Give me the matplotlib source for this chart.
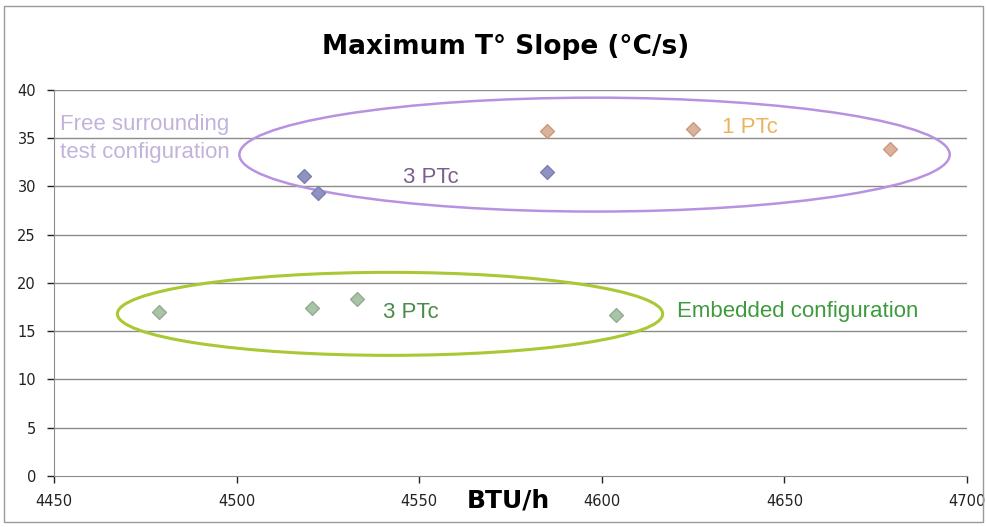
import matplotlib.pyplot as plt
from matplotlib.patches import Ellipse, Rectangle

# data (BTU/h vs max slope in degC/s)
free_3ptc_x = [4518.5, 4522.3, 4585.0]
free_3ptc_y = [31.1, 29.3, 31.5]
free_1ptc_x = [4585.0, 4625.0, 4679.0]
free_1ptc_y = [35.7, 36.0, 33.9]
emb_3ptc_x = [4478.8, 4520.7, 4533.0, 4604.0]
emb_3ptc_y = [17.0, 17.4, 18.3, 16.7]

x_ticks = [4450, 4500, 4550, 4600, 4650, 4700]
y_ticks = [0, 5, 10, 15, 20, 25, 30, 35, 40]

fig = plt.figure(figsize=(9.86, 5.27), dpi=100)
ax = fig.add_axes([0.0548, 0.0968, 0.926, 0.7325])

# grid first so markers sit on top
for y in y_ticks[1:]:
    ax.axhline(y, color="#8c8c8c", lw=1.0, zorder=1)

mk = dict(marker="D", s=50, linewidths=1.0, zorder=4)
ax.scatter(free_3ptc_x, free_3ptc_y, color="#8e93c4", edgecolors="#7c80b0", **mk)
ax.scatter(free_1ptc_x, free_1ptc_y, color="#ddb29a", edgecolors="#c89a80", **mk)
ax.scatter(emb_3ptc_x, emb_3ptc_y, color="#aac3a6", edgecolors="#93ad90", **mk)

# group ellipses
ax.add_patch(Ellipse((4598, 33.3), 194.5, 11.8, fill=False, ec="#b892e0", lw=1.8, zorder=3))
ax.add_patch(Ellipse((4542, 16.8), 149.3, 8.6, fill=False, ec="#a9c834", lw=2.2, zorder=3))

ax.set_xlim(4450, 4700)
ax.set_ylim(0, 40)
ax.set_xticks(x_ticks)
ax.set_yticks(y_ticks)
ax.tick_params(axis="both", labelsize=10.5, colors="#222222", length=5, width=1.0)
ax.tick_params(axis="x", pad=8)
ax.tick_params(axis="y", pad=8)
for t in ax.get_xticklines() + ax.get_yticklines():
    t.set_color("#8c8c8c")
for s in ["top", "right"]:
    ax.spines[s].set_visible(False)
for s in ["left", "bottom"]:
    ax.spines[s].set_color("#8c8c8c")

# annotations
lbl = dict(family="Liberation Sans", fontsize=16, ha="left", va="baseline")
ax.text(4451.6, 32.9, "Free surrounding\ntest configuration", color="#c3b3dc",
        linespacing=1.45, **lbl)
ax.text(4545.6, 30.36, "3 PTc", color="#7b5e8c", **lbl)
ax.text(4633, 35.54, "1 PTc", color="#eab45a", **lbl)
ax.text(4540, 16.37, "3 PTc", color="#4a8a4a", **lbl)
ax.text(4620.7, 16.48, "Embedded configuration", color="#3e9a3e", **lbl)

fig.text(0.513, 0.911, "Maximum T° Slope (°C/s)", fontsize=19, fontweight="bold",
         ha="center", va="center")
fig.text(0.516, 0.05, "BTU/h", fontsize=18, fontweight="bold", ha="center", va="center")

fig.add_artist(Rectangle((0.004, 0.009), 0.993, 0.98, transform=fig.transFigure,
                         fill=False, ec="#9a9a9a", lw=1.0))

fig.savefig("out.png", dpi=100)
